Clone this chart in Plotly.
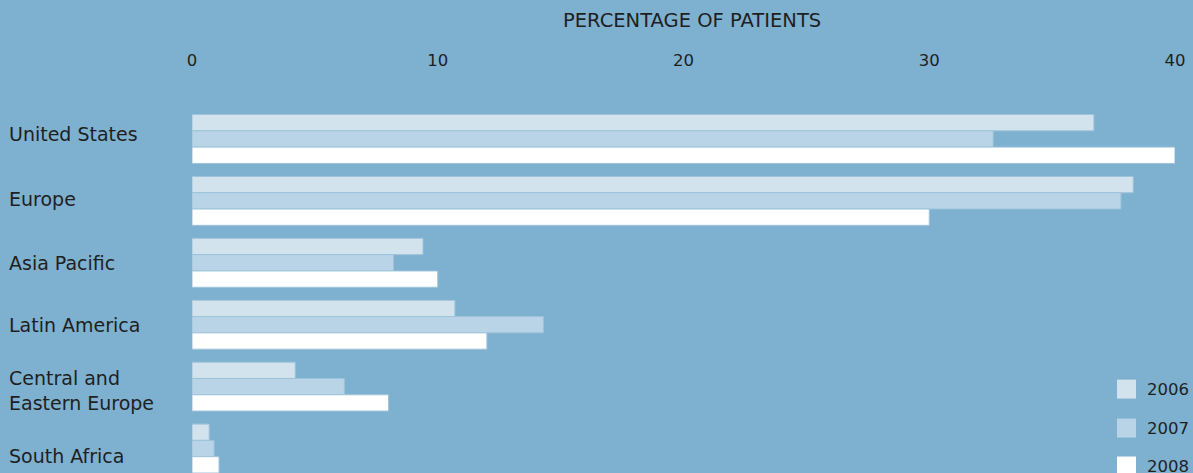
import plotly.graph_objects as go

regions = ["United States", "Europe", "Asia Pacific", "Latin America",
           "Central and<br>Eastern Europe", "South Africa"]
years = ["2006", "2007", "2008"]
v2006 = [36.7, 38.3, 9.4, 10.7, 4.2, 0.7]
v2007 = [32.6, 37.8, 8.2, 14.3, 6.2, 0.9]
v2008 = [40.0, 30.0, 10.0, 12.0, 8.0, 1.1]
xticks = [0, 10, 20, 30, 40]

series = [v2006, v2007, v2008]
colors = ["#d3e3ed", "#b8d4e6", "#ffffff"]
BG = "#7eb0cf"
TXT = "#1f1f1f"
FONT = "DejaVu Sans"

W, H = 1193, 473
L, R, T, B = 192, 18, 107.5, 0
PW, PH = W - L - R, H - T - B

fig = go.Figure()
for yr, vals, c in zip(years, series, colors):
    fig.add_trace(go.Bar(
        y=list(range(len(regions))), x=vals, name=yr, orientation="h",
        marker=dict(color=c, line=dict(color="#9ec3da", width=1)),
        showlegend=False,
    ))

fig.update_layout(
    width=W, height=H,
    margin=dict(l=L, r=R, t=T, b=B, pad=0),
    paper_bgcolor=BG, plot_bgcolor=BG,
    barmode="group", bargap=0.21, bargroupgap=0,
    font=dict(family=FONT, color=TXT),
    xaxis=dict(side="top", range=[0, 40], tickvals=xticks,
               ticktext=[str(t) for t in xticks], showgrid=False,
               zeroline=False, showline=False, ticks="",
               tickfont=dict(size=16.5, family=FONT, color=TXT),
               ticklabelstandoff=38),
    yaxis=dict(range=[5.395, -0.5], showticklabels=False, showgrid=False,
               zeroline=False, showline=False, ticks=""),
)

# title
fig.add_annotation(text="PERCENTAGE OF PATIENTS", xref="paper", yref="paper",
                   x=(692 - L) / PW, y=(H - 20 - B) / PH, xanchor="center",
                   yanchor="middle", showarrow=False,
                   font=dict(size=19.5, family=FONT, color=TXT))

# left-aligned category labels
yshift = [5, 2, 0, 0, -4, -7.5]
for i, (name, ys) in enumerate(zip(regions, yshift)):
    fig.add_annotation(text=name, xref="paper", yref="y", x=(7 - L) / PW,
                       y=i, xanchor="left", yanchor="middle", align="left",
                       showarrow=False, yshift=ys,
                       font=dict(size=19, family=FONT, color=TXT))

# legend
leg_y = [389, 428, 466]
for yr, c, py in zip(years, colors, leg_y):
    fig.add_shape(type="rect", xref="paper", yref="paper",
                  x0=(1117 - L) / PW, x1=(1136 - L) / PW,
                  y0=(H - (py + 9.5)) / PH, y1=(H - (py - 9.5)) / PH,
                  fillcolor=c, line=dict(width=0))
    fig.add_annotation(text=yr, xref="paper", yref="paper",
                       x=(1145 - L) / PW, y=(H - py) / PH, xanchor="left",
                       yanchor="middle", showarrow=False,
                       font=dict(size=16.5, family=FONT, color=TXT))

fig.write_html("out.html", config={"displayModeBar": False},
               post_script="document.body.style.margin='0';")
